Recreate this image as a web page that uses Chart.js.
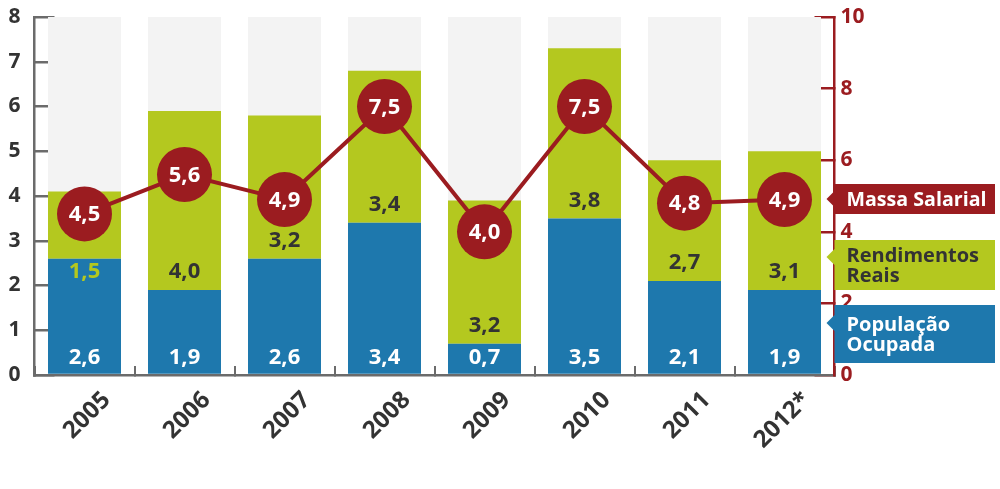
<!DOCTYPE html>
<html>
<head>
<meta charset="utf-8">
<script src="https://cdn.jsdelivr.net/npm/chart.js@4"></script>
<style>
  html, body { margin: 0; padding: 0; background: #fff; }
  #wrap { width: 1000px; height: 489px; }
</style>
</head>
<body>
<div id="wrap"><canvas id="myChart"></canvas></div>
<script>
const anos = ['2005', '2006', '2007', '2008', '2009', '2010', '2011', '2012*'];
const populacaoOcupada = [2.6, 1.9, 2.6, 3.4, 0.7, 3.5, 2.1, 1.9];
const rendimentosReais = [1.5, 4.0, 3.2, 3.4, 3.2, 3.8, 2.7, 3.1];
const massaSalarial = [4.5, 5.6, 4.9, 7.5, 4.0, 7.5, 4.8, 4.9];
const fundo = [8, 8, 8, 8, 8, 8, 8, 8];
const ticksEsquerda = [0, 1, 2, 3, 4, 5, 6, 7, 8];
const ticksDireita = [0, 2, 4, 6, 8, 10];

const AZUL = '#1e78ad';
const VERDE = '#b4c81f';
const VERMELHO = '#9b1c20';
const CINZA = '#f3f3f3';
const TEXTO = '#333333';
const FONTE = "'Open Sans', 'Noto Sans', sans-serif";

const fmt = v => v.toFixed(1).replace('.', ',');

// rotulos dos valores nas barras e nos circulos
const rotulos = {
  id: 'rotulos',
  afterDatasetsDraw(chart) {
    const ctx = chart.ctx;
    const area = chart.chartArea;
    const azul = chart.getDatasetMeta(1).data;
    const verde = chart.getDatasetMeta(2).data;
    const linha = chart.getDatasetMeta(3).data;
    ctx.save();
    ctx.font = 'bold 22px ' + FONTE;
    ctx.textAlign = 'center';
    ctx.textBaseline = 'middle';
    azul.forEach((bar, i) => {
      ctx.fillStyle = '#fff';
      ctx.fillText(fmt(populacaoOcupada[i]), bar.x, area.bottom - 17);
    });
    verde.forEach((bar, i) => {
      const topoAzul = azul[i].y;
      if (rendimentosReais[i] < 2) {
        ctx.fillStyle = VERDE;
        ctx.fillText(fmt(rendimentosReais[i]), bar.x, topoAzul + 13);
      } else {
        ctx.fillStyle = TEXTO;
        ctx.fillText(fmt(rendimentosReais[i]), bar.x, topoAzul - 18);
      }
    });
    linha.forEach((pt, i) => {
      ctx.fillStyle = '#fff';
      ctx.fillText(fmt(massaSalarial[i]), pt.x, pt.y + 1);
    });
    ctx.restore();
  }
};

// legenda em caixas com seta, ao lado do eixo direito
const legenda = {
  id: 'legenda',
  afterDraw(chart) {
    const ctx = chart.ctx;
    const x0 = chart.chartArea.right;
    const caixas = [
      { cor: VERMELHO, texto: ['Massa Salarial'], y1: 184, y2: 214, seta: 199, corTexto: '#fff' },
      { cor: VERDE, texto: ['Rendimentos', 'Reais'], y1: 240, y2: 290, seta: 257, corTexto: TEXTO },
      { cor: AZUL, texto: ['População', 'Ocupada'], y1: 305, y2: 363, seta: 323, corTexto: '#fff' }
    ];
    ctx.save();
    caixas.forEach(c => {
      ctx.fillStyle = c.cor;
      ctx.beginPath();
      ctx.moveTo(x0, c.y1);
      ctx.lineTo(995, c.y1);
      ctx.lineTo(995, c.y2);
      ctx.lineTo(x0, c.y2);
      ctx.lineTo(x0, c.seta + 8);
      ctx.lineTo(x0 - 8, c.seta);
      ctx.lineTo(x0, c.seta - 8);
      ctx.closePath();
      ctx.fill();
      ctx.fillStyle = c.corTexto;
      ctx.font = 'bold 20px ' + FONTE;
      ctx.textAlign = 'left';
      ctx.textBaseline = 'middle';
      const passo = 20;
      const meio = (c.y1 + c.y2) / 2 + 1;
      c.texto.forEach((t, k) => {
        const y = meio + (k - (c.texto.length - 1) / 2) * passo;
        ctx.fillText(t, x0 + 12, y, 140);
      });
    });
    ctx.restore();
  }
};

const ajustaVertical = largura => s => {
  s.width = largura;
  s.paddingTop = 0;
  s.paddingBottom = 0;
};

const ctx = document.getElementById('myChart');

new Chart(ctx, {
  data: {
    labels: anos,
    datasets: [
      {
        type: 'bar',
        label: 'fundo',
        data: fundo,
        backgroundColor: CINZA,
        stack: 'fundo',
        grouped: false,
        order: 3,
        barPercentage: 0.73,
        categoryPercentage: 1
      },
      {
        type: 'bar',
        label: 'População Ocupada',
        data: populacaoOcupada,
        backgroundColor: AZUL,
        stack: 'a',
        order: 2,
        barPercentage: 0.73,
        categoryPercentage: 1
      },
      {
        type: 'bar',
        label: 'Rendimentos Reais',
        data: rendimentosReais,
        backgroundColor: VERDE,
        stack: 'a',
        order: 2,
        barPercentage: 0.73,
        categoryPercentage: 1
      },
      {
        type: 'line',
        label: 'Massa Salarial',
        data: massaSalarial,
        yAxisID: 'y1',
        borderColor: VERMELHO,
        borderWidth: 4,
        pointRadius: 27.5,
        pointBackgroundColor: VERMELHO,
        pointBorderWidth: 0,
        pointHoverRadius: 27.5,
        order: 0,
        clip: false
      }
    ]
  },
  options: {
    responsive: true,
    maintainAspectRatio: false,
    animation: false,
    layout: { autoPadding: false, padding: { top: 17 } },
    plugins: {
      legend: { display: false },
      tooltip: { enabled: false }
    },
    scales: {
      x: {
        stacked: true,
        offset: true,
        grid: {
          display: true,
          drawOnChartArea: false,
          drawTicks: true,
          tickLength: -9,
          color: '#6b6b6b',
          lineWidth: 2
        },
        border: { display: true, color: '#6b6b6b', width: 2.5 },
        ticks: {
          minRotation: 45,
          maxRotation: 45,
          labelOffset: 22,
          padding: 20,
          color: TEXTO,
          font: { family: FONTE, size: 24, weight: 'bold' }
        },
        afterFit: s => { s.height = 114; }
      },
      y: {
        position: 'left',
        stacked: true,
        min: 0,
        max: 8,
        afterBuildTicks: s => { s.ticks = ticksEsquerda.map(v => ({ value: v })); },
        grid: {
          drawOnChartArea: false,
          drawTicks: true,
          tickLength: -20,
          color: '#6b6b6b',
          lineWidth: 2.5
        },
        border: { display: true, color: '#6b6b6b', width: 2.5 },
        ticks: {
          padding: 34,
          color: TEXTO,
          font: { family: FONTE, size: 21, weight: 'bold' }
        },
        afterFit: ajustaVertical(34.5)
      },
      y1: {
        position: 'right',
        min: 0,
        max: 10,
        afterBuildTicks: s => { s.ticks = ticksDireita.map(v => ({ value: v })); },
        grid: {
          drawOnChartArea: false,
          drawTicks: true,
          tickLength: -20,
          color: VERMELHO,
          lineWidth: 2.5
        },
        border: { display: true, color: VERMELHO, width: 2.5 },
        ticks: {
          padding: 26,
          color: VERMELHO,
          font: { family: FONTE, size: 21, weight: 'bold' }
        },
        afterFit: ajustaVertical(165.5)
      }
    }
  },
  plugins: [rotulos, legenda]
});
</script>
</body>
</html>
